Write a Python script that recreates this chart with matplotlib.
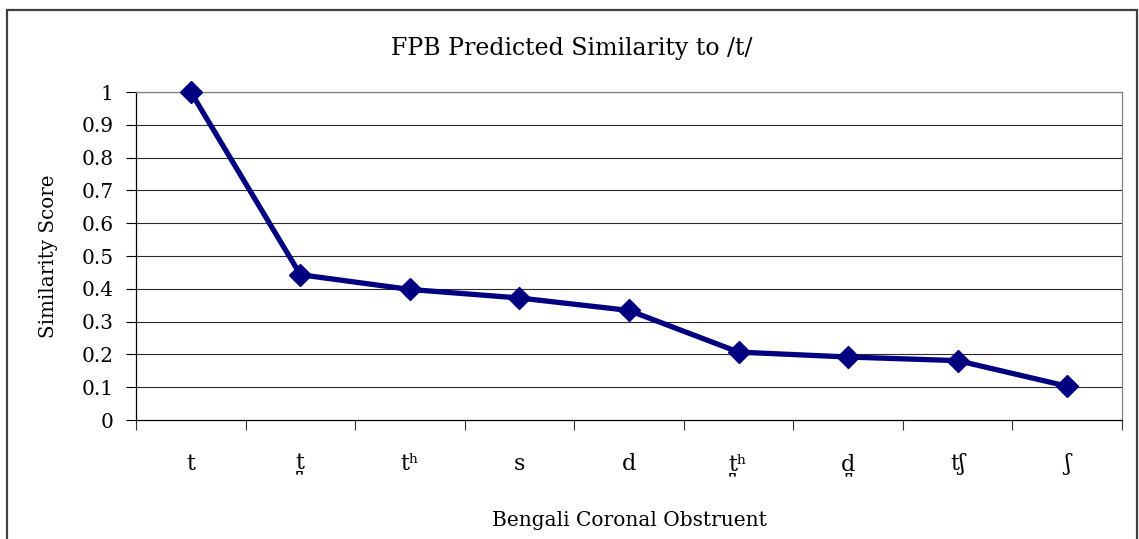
import numpy as np
import matplotlib
matplotlib.use("Agg")
import matplotlib.pyplot as plt
from matplotlib.patches import Rectangle

categories = ["t", "t\u032a", "t\u02b0", "s", "d", "t\u032a\u02b0", "d\u032a", "t\u0283", "\u0283"]
scores = [1.0, 0.443, 0.398, 0.372, 0.334, 0.207, 0.192, 0.181, 0.103]
yticks = [0, 0.1, 0.2, 0.3, 0.4, 0.5, 0.6, 0.7, 0.8, 0.9, 1]
ytick_labels = ["0", "0.1", "0.2", "0.3", "0.4", "0.5", "0.6", "0.7", "0.8", "0.9", "1"]
title = "FPB Predicted Similarity to /t/"
xlabel = "Bengali Coronal Obstruent"
ylabel = "Similarity Score"

plt.rcParams['font.family'] = ['DejaVu Serif', 'DejaVu Sans']

W, H = 1139, 539
fig = plt.figure(figsize=(W / 100, H / 100), dpi=100)
fig.patch.set_facecolor("white")

# outer chart border
fig.patches.append(Rectangle((7 / W, -0.05), (1137 - 7) / W, (H - 10) / H + 0.05,
                             transform=fig.transFigure, fill=False,
                             edgecolor="#404040", linewidth=1.6))

ax = fig.add_axes([136 / W, (H - 420) / H, (1122 - 136) / W, (420 - 92) / H])
x = np.arange(len(categories))
ax.plot(x, scores, color="#000080", linewidth=3.8, marker="D", markersize=11,
        markerfacecolor="#000080", markeredgecolor="#000080", zorder=3, clip_on=False)

ax.set_xlim(-0.5, len(categories) - 0.5)
ax.set_ylim(0, 1)
ax.set_yticks(yticks)
ax.set_yticklabels(ytick_labels, fontsize=14.5)
for yv in yticks[1:]:
    ax.axhline(yv, color="#2a2a2a", linewidth=0.8, zorder=1)

ax.set_xticks(np.arange(-0.5, len(categories), 1))
ax.set_xticklabels([])
ax.set_xticks(x, minor=True)
ax.set_xticklabels(categories, minor=True, fontsize=16)
ax.tick_params(axis="x", which="major", direction="out", length=7, width=0.8, color="#333333")
ax.tick_params(axis="x", which="minor", length=0, pad=24)
ax.tick_params(axis="y", direction="out", length=7, width=0.8, pad=9, color="black")

for s in ["left", "bottom"]:
    ax.spines[s].set_color("black")
    ax.spines[s].set_linewidth(0.9)
for s in ["right", "top"]:
    ax.spines[s].set_color("#808080")
    ax.spines[s].set_linewidth(0.9)

fig.text(572 / W, 1 - 48 / H, title, ha="center", va="center", fontsize=17)
fig.text((136 + 1122) / 2 / W, 1 - 521 / H, xlabel, ha="center", va="center", fontsize=14.5)
fig.text(49 / W, 1 - 256 / H, ylabel, ha="center", va="center", rotation=90, fontsize=14.3)

fig.savefig("out.png", dpi=100, facecolor="white")
